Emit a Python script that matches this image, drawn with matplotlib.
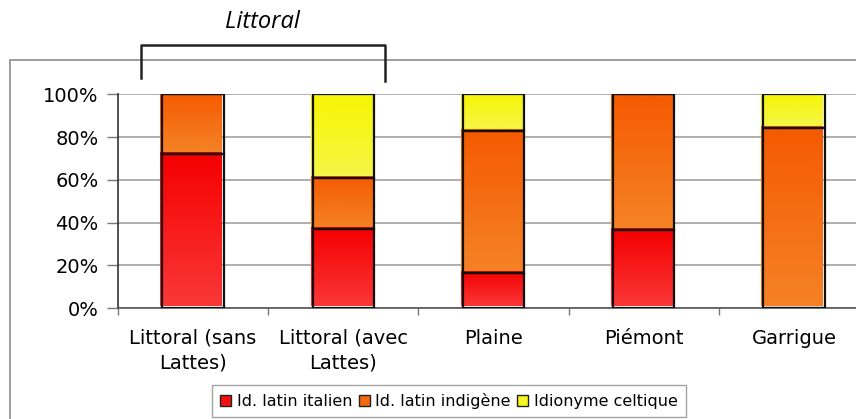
import numpy as np
import matplotlib
matplotlib.use("Agg")
import matplotlib.pyplot as plt
from matplotlib.patches import Patch, Rectangle
from matplotlib.lines import Line2D
from matplotlib.ticker import PercentFormatter, FixedLocator

# parts des types de noms par zone (%)
categories = ["Littoral (sans\nLattes)", "Littoral (avec\nLattes)", "Plaine", "Piémont", "Garrigue"]
italien = [72, 37, 16.5, 36.5, 0]
indigene = [28, 24, 66.5, 63.5, 84.5]
celtique = [0, 39, 17, 0, 15.5]
series_labels = ["Id. latin italien", "Id. latin indigène", "Idionyme celtique"]

# (haut, bas) du dégradé de chaque série
grad = [((245, 0, 0), (250, 55, 55)),
        ((245, 90, 0), (245, 130, 38)),
        ((245, 245, 0), (245, 245, 70))]
legend_colors = ["#f51010", "#f56a10", "#f5f520"]

W, H = 856, 419
fig = plt.figure(figsize=(W / 100, H / 100), dpi=100)
plt.rcParams['font.family'] = ['DejaVu Sans']

# cadre extérieur
fig.add_artist(Rectangle((10 / W, -0.1), 2, 1 - 60 / H + 0.1, transform=fig.transFigure,
                         fill=False, edgecolor="#8c8c8c", lw=1.2))

ax = fig.add_axes([118 / W, 111 / H, 751 / W, 213.5 / H])
x = np.arange(len(categories))
width = 0.41
dx = 2 / 150.2
dy = 2 / 213.5 * 100

bottom = np.zeros(len(categories))
for vals, (ctop, cbot) in zip([italien, indigene, celtique], grad):
    vals = np.array(vals, dtype=float)
    for i in range(len(categories)):
        if vals[i] <= 0:
            continue
        y0, y1 = bottom[i], bottom[i] + vals[i]
        n = 64
        t = np.linspace(0, 1, n)[:, None]
        img = (np.array(ctop)[None, :] * (1 - t) + np.array(cbot)[None, :] * t) / 255
        ax.imshow(img[:, None, :], extent=(x[i] - width / 2 - dx, x[i] + width / 2 - dx,
                                          y0 + dy, y1 + dy),
                  origin="upper", aspect="auto", zorder=2)
    ax.bar(x, vals, width, bottom=bottom, facecolor="none", edgecolor="#111111",
           lw=1.6, zorder=3)
    bottom += vals

ax.set_xlim(-0.5, len(categories) - 0.5)
ax.set_ylim(0, 100)
ax.yaxis.set_major_locator(FixedLocator([0, 20, 40, 60, 80, 100]))
ax.yaxis.set_major_formatter(PercentFormatter(decimals=0))
ax.yaxis.grid(True, color="#a8a8a8", lw=1.3, zorder=0)
ax.set_axisbelow(True)

ax.set_xticks(np.arange(len(categories) + 1) - 0.5)
ax.set_xticklabels([])
ax.set_xticks(x, minor=True)
ax.set_xticklabels(categories, minor=True, fontsize=14, linespacing=1.4)
ax.tick_params(axis="x", which="major", length=5, color="#777777", width=1)
ax.tick_params(axis="x", which="minor", length=0, pad=15)
ax.tick_params(axis="y", length=8, color="#777777", width=1, pad=6, labelsize=14)

for s in ["top", "right"]:
    ax.spines[s].set_visible(False)
ax.spines["left"].set_color("#333333")
ax.spines["bottom"].set_color("#555555")
ax.spines["left"].set_linewidth(1.2)
ax.spines["bottom"].set_linewidth(1.2)

# accolade "Littoral"
bx0, bx1, by = 141 / W, 385 / W, 1 - 45 / H
fig.add_artist(Line2D([bx0, bx0, bx1, bx1], [1 - 78 / H, by, by, 1 - 81 / H],
                      transform=fig.transFigure, color="#222222", lw=1.8))
fig.text(262 / W, 1 - 22 / H, "Littoral", ha="center", va="center", fontsize=17,
         style="italic", family="Open Sans")

handles = [Patch(facecolor=c, edgecolor="#222222", lw=1) for c in legend_colors]
fig.legend(handles, series_labels, loc="upper left", bbox_to_anchor=(212 / W, 1 - 385 / H),
           ncol=3, fontsize=11.5, frameon=True, fancybox=False, edgecolor="#8c8c8c",
           borderaxespad=0, columnspacing=0.4, handletextpad=0.35,
           handlelength=0.7, handleheight=0.7, borderpad=0.5)

fig.savefig("out.png", dpi=100)
